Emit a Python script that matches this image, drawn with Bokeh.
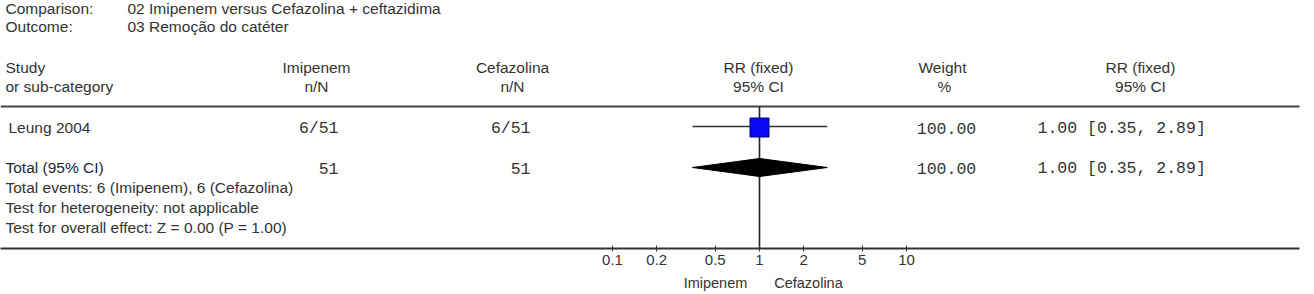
from bokeh.plotting import figure
from bokeh.models import (Range1d, LogScale, LogAxis, LinearAxis, FixedTicker,
                          NumeralTickFormatter, ColumnDataSource)
from bokeh.core.properties import value
from bokeh.embed import file_html
from bokeh.resources import INLINE

# ---------------- data ----------------
comparison = "02 Imipenem versus Cefazolina + ceftazidima"
outcome = "03 Remoção do catéter"
group_a = "Imipenem"
group_b = "Cefazolina"
studies = ["Leung 2004"]
a_events = [6]
a_total = [51]
b_events = [6]
b_total = [51]
rr = [1.00]
rr_lo = [0.35]
rr_hi = [2.89]
weights = [100.00]
pooled_rr = 1.00
pooled_lo = 0.35
pooled_hi = 2.89
pooled_weight = 100.00
total_a = 51
total_b = 51
total_events_a = 6
total_events_b = 6
heterogeneity = "not applicable"
z_value = 0.00
p_value = 1.00
null_value = 1
axis_ticks = [0.1, 0.2, 0.5, 1, 2, 5, 10]
axis_tick_labels = ["0.1", "0.2", "0.5", "1", "2", "5", "10"]

# ---------------- layout ----------------
W, H = 1314, 294
FRAME_H = 248
NULL_PX = 759.0
DECADE_PX = 147.0
rr_start = 10 ** ((0 - NULL_PX) / DECADE_PX)
rr_end = 10 ** ((W - NULL_PX) / DECADE_PX)
rr_bound_end = 10 ** ((1299 - NULL_PX) / DECADE_PX)

SANS = "Liberation Sans"
MONO = "Liberation Mono"
TXT = "#333333"
SANS_SHIFT = -6.5
MONO_SHIFT = -5.5

p = figure(width=W, height=H, x_range=Range1d(0, W), y_range=Range1d(FRAME_H, 0),
           x_axis_location=None, y_axis_location=None,
           output_backend="svg", toolbar_location=None,
           min_border_left=0, min_border_right=0, min_border_top=0,
           min_border_bottom=H - FRAME_H, outline_line_color=None,
           background_fill_color="white", border_fill_color="white")
p.grid.visible = False
p.extra_x_ranges = {"rr": Range1d(rr_start, rr_end)}
p.extra_x_scales = {"rr": LogScale()}

ax = LogAxis(x_range_name="rr", ticker=FixedTicker(ticks=axis_ticks, minor_ticks=[]),
             formatter=NumeralTickFormatter(format="0.[0]"),
             bounds=(rr_start, rr_bound_end))
ax.major_label_overrides = {t: l for t, l in zip(axis_ticks, axis_tick_labels)}
ax.axis_line_color = "#333333"
ax.axis_line_width = 2
ax.major_tick_line_color = "#333333"
ax.major_tick_in = 3
ax.major_tick_out = 3
ax.minor_tick_line_color = None
ax.major_label_text_font = SANS
ax.major_label_text_font_size = "15px"
ax.major_label_text_color = TXT
ax.major_label_standoff = 3
p.add_layout(ax, "below")

# second, line-less axis carrying the two group captions under the null line
FAV_A_PX, FAV_B_PX = 715, 808
ax2 = LinearAxis(ticker=FixedTicker(ticks=[FAV_A_PX, FAV_B_PX], minor_ticks=[]))
ax2.major_label_overrides = {FAV_A_PX: group_a, FAV_B_PX: group_b}
ax2.axis_line_color = None
ax2.major_tick_line_color = None
ax2.major_tick_in = 0
ax2.major_tick_out = 0
ax2.minor_tick_line_color = None
ax2.major_label_text_font = SANS
ax2.major_label_text_font_size = "14.5px"
ax2.major_label_text_color = TXT
ax2.major_label_standoff = 7
p.add_layout(ax2, "below")


def texts(xs, ys, tx, align="left", font=SANS, size="15.5px", color=TXT):
    shift = MONO_SHIFT if font == MONO else SANS_SHIFT
    src = ColumnDataSource(dict(x=xs, y=[y + shift for y in ys], t=tx))
    p.text(x="x", y="y", text="t", source=src, text_align=align,
           text_baseline="alphabetic", text_font=value(font),
           text_font_size=size, text_color=color)


# header info
texts([5, 5], [14, 32], ["Comparison:", "Outcome:"])
texts([127, 127], [14, 32], [comparison, outcome])

# column headers
texts([5, 5], [73, 92], ["Study", "or sub-category"])
texts([316, 316, 512, 512, 758, 758, 942, 944, 1140, 1140],
      [73, 92, 73, 92, 73, 92, 73, 92, 73, 92],
      [group_a, "n/N", group_b, "n/N", "RR (fixed)", "95% CI", "Weight", "%",
       "RR (fixed)", "95% CI"], align="center")

# header rule
p.segment(x0=[0], x1=[1299], y0=[106], y1=[106], line_color="#444444", line_width=2)

# study rows
row_y = [127 + 40 * i for i in range(len(studies))]
base_y = [y + 6 for y in row_y]
texts([8] * len(studies), base_y, studies)
texts([338] * len(studies), base_y, [f"{e}/{n}" for e, n in zip(a_events, a_total)],
      align="right", font=MONO, size="16.5px")
texts([530] * len(studies), base_y, [f"{e}/{n}" for e, n in zip(b_events, b_total)],
      align="right", font=MONO, size="16.5px")
texts([946] * len(studies), base_y, [f"{w:.2f}" for w in weights],
      align="center", font=MONO, size="16.5px")
texts([1037] * len(studies), base_y,
      [f"{r:.2f} [{lo:.2f}, {hi:.2f}]" for r, lo, hi in zip(rr, rr_lo, rr_hi)],
      font=MONO, size="16.5px")

# null line
p.segment(x0=[null_value], x1=[null_value], y0=[106], y1=[FRAME_H],
          line_color="#222222", line_width=1.6, x_range_name="rr")

# CI lines and squares
p.segment(x0=rr_lo, x1=rr_hi, y0=[y - 1 for y in row_y], y1=[y - 1 for y in row_y],
          line_color="#333333", line_width=1.5, x_range_name="rr")
p.scatter(x=rr, y=row_y, marker="square", size=19, fill_color="#0808f5",
          line_color="#00008a", line_width=1, x_range_name="rr")

# total row
tot_y = 167
texts([5], [tot_y + 6], ["Total (95% CI)"], color="#22263a")
texts([338], [tot_y + 6], [str(total_a)], align="right", font=MONO, size="16.5px")
texts([530], [tot_y + 6], [str(total_b)], align="right", font=MONO, size="16.5px")
texts([946], [tot_y + 6], [f"{pooled_weight:.2f}"], align="center", font=MONO, size="16.5px")
texts([1037], [tot_y + 6], [f"{pooled_rr:.2f} [{pooled_lo:.2f}, {pooled_hi:.2f}]"],
      font=MONO, size="16.5px")
p.patch(x=[pooled_lo, pooled_rr, pooled_hi, pooled_rr],
        y=[tot_y, tot_y - 9, tot_y, tot_y + 9],
        fill_color="black", line_color="black", line_width=1, x_range_name="rr")

texts([5, 5, 5], [193.5, 213.5, 233.5],
      [f"Total events: {total_events_a} ({group_a}), {total_events_b} ({group_b})",
       f"Test for heterogeneity: {heterogeneity}",
       f"Test for overall effect: Z = {z_value:.2f} (P = {p_value:.2f})"])

open("out.html", "w").write(file_html(p, INLINE))
